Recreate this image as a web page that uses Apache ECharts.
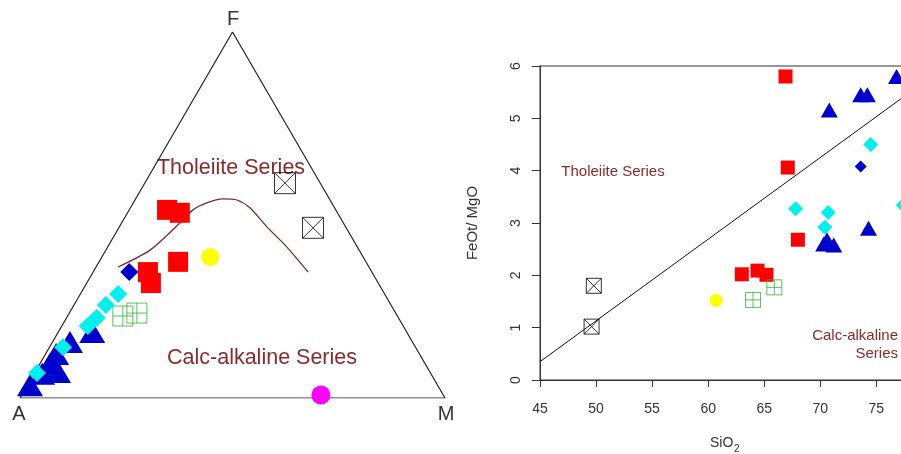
<!DOCTYPE html>
<html>
<head>
<meta charset="utf-8">
<script src="https://cdn.jsdelivr.net/npm/echarts@6/dist/echarts.min.js"></script>
<style>
  html, body { margin: 0; padding: 0; background: #fff; }
  #chart { width: 901px; height: 454px; }
</style>
</head>
<body>
<div id="chart"></div>
<script>
const FONT = '"Liberation Sans", Arial, sans-serif';

// ---- AFM ternary diagram: every row is [A, F, M] in percent ----
const afmCorners = [[100, 0, 0], [0, 100, 0], [0, 0, 100], [100, 0, 0]];
const afmBoundary = [
  [59.0, 35.8, 5.2], [49.2, 40.4, 10.4], [38.5, 47.8, 13.7], [33.6, 51.4, 15.0],
  [29.4, 53.3, 17.3], [25.1, 54.4, 20.5], [21.9, 54.1, 24.0], [19.9, 51.9, 28.2],
  [18.5, 46.7, 34.8], [16.6, 41.3, 42.1], [15.0, 34.4, 50.6]
];
const afmRedSquare = [[39.7, 51.4, 8.9], [37.1, 50.6, 12.3], [44.2, 37.2, 18.6], [52.7, 34.4, 12.9], [53.5, 31.4, 15.1]];
const afmBlueTriangle = [[95.9, 3.5, 0.6], [91.5, 6.6, 1.9], [88.3, 9.3, 2.4], [85.5, 12.0, 2.5], [80.6, 15.3, 4.1], [74.0, 18.0, 8.0], [87.5, 7.1, 5.4]];
const afmCyanDiamond = [[62.7, 28.4, 8.9], [67.1, 25.4, 7.5], [71.0, 21.9, 7.1], [74.2, 19.7, 6.1], [82.9, 13.9, 3.2], [92.6, 6.8, 0.6]];
const afmBlueDiamond = [[57.1, 34.4, 8.5]];
const afmYellowCircle = [[36.0, 38.5, 25.5]];
const afmMagentaCircle = [[28.8, 0.8, 70.4]];
const afmGreenPlus = [[64.6, 22.4, 13.0], [60.9, 23.2, 15.9]];
const afmBlackCross = [[8.3, 58.7, 33.0], [7.8, 46.5, 45.7]];

// ---- SiO2 vs FeOt/MgO ----
const dividerSiO2 = [45, 78];
const dividerRatio = [0.35, 5.50];
const sio2RedSquare = [66.9, 67.1, 68.0, 63.0, 64.4, 65.2];
const ratioRedSquare = [5.80, 4.06, 2.68, 2.02, 2.09, 2.01];
const sio2BlueTriangle = [70.3, 70.6, 71.2, 74.3, 70.8, 73.6, 74.2, 76.8];
const ratioBlueTriangle = [2.60, 2.68, 2.58, 2.90, 5.16, 5.45, 5.45, 5.80];
const sio2CyanDiamond = [67.8, 70.7, 70.4, 74.5, 77.4];
const ratioCyanDiamond = [3.27, 3.20, 2.92, 4.50, 3.34];
const sio2BlueDiamond = [73.6];
const ratioBlueDiamond = [4.08];
const sio2YellowCircle = [60.7];
const ratioYellowCircle = [1.52];
const sio2GreenPlus = [64.0, 65.9];
const ratioGreenPlus = [1.53, 1.77];
const sio2BlackCross = [49.8, 49.6];
const ratioBlackCross = [1.80, 1.02];

const sio2Range = [45, 78];
const sio2Step = 5;
const ratioRange = [0, 6];
const ratioStep = 1;

// ternary [A, F, M] -> planar coordinates (A bottom-left, M bottom-right, F apex)
function tern(row) {
  const s = row[0] + row[1] + row[2];
  const f = row[1] / s * 100, m = row[2] / s * 100;
  return [m + f / 2, f * Math.sqrt(3) / 2];
}
function pairs(xs, ys) { return xs.map((x, i) => [x, ys[i]]); }

const boxCross = 'path://M0,0L20,0L20,20L0,20Z M0,0L20,20 M20,0L0,20';
const boxPlus = 'path://M0,0L20,0L20,20L0,20Z M10,0L10,20 M0,10L20,10';

const RED = '#ff0000', BLUE = '#0000cd', CYAN = '#00f0f0', YELLOW = '#ffff00',
      MAGENTA = '#ff00ff', GREEN = '#2db52d', LABEL = '#8b2a2a';

function pts(name, idx, data, symbol, size, color, z) {
  const hollow = symbol.startsWith('path://');
  return {
    name, type: 'scatter', xAxisIndex: idx, yAxisIndex: idx, data, symbol, symbolSize: size,
    z: z, silent: true,
    itemStyle: hollow
      ? { color: 'rgba(0,0,0,0)', borderColor: color, borderWidth: 1 }
      : { color: color, opacity: 1 }
  };
}

const chart = echarts.init(document.getElementById('chart'), null, { renderer: 'canvas' });

chart.setOption({
  animation: false,
  backgroundColor: '#ffffff',
  textStyle: { fontFamily: FONT },
  grid: [
    { left: 20, top: 32, width: 425, height: 366, outerBoundsMode: 'none' },
    { left: 540, top: 66, width: 370, height: 314, outerBoundsMode: 'none',
      show: true, borderColor: '#777', borderWidth: 1.5, backgroundColor: 'transparent' }
  ],
  xAxis: [
    { gridIndex: 0, type: 'value', min: 0, max: 100, show: false },
    {
      gridIndex: 1, type: 'value', min: sio2Range[0], max: sio2Range[1], interval: sio2Step,
      axisLine: { show: true, onZero: false, lineStyle: { color: '#333', width: 1 } },
      axisTick: { show: true, length: 7, lineStyle: { color: '#333' } },
      axisLabel: { color: '#333', fontSize: 14, margin: 22, fontFamily: FONT, showMaxLabel: false },
      splitLine: { show: false }
    }
  ],
  yAxis: [
    { gridIndex: 0, type: 'value', min: 0, max: 100 * Math.sqrt(3) / 2, show: false },
    {
      gridIndex: 1, type: 'value', min: ratioRange[0], max: ratioRange[1], interval: ratioStep,
      name: 'FeOt/ MgO', nameLocation: 'middle', nameGap: 60, nameRotate: 90,
      nameTextStyle: { color: '#333', fontSize: 15, fontFamily: FONT },
      axisLine: { show: true, onZero: false, lineStyle: { color: '#333', width: 1 } },
      axisTick: { show: true, length: 8, lineStyle: { color: '#333' } },
      axisLabel: { color: '#333', fontSize: 14, margin: 17, rotate: 90, fontFamily: FONT },
      splitLine: { show: false }
    }
  ],
  series: [
    {
      name: 'triangle', type: 'line', xAxisIndex: 0, yAxisIndex: 0, silent: true,
      data: afmCorners.map(tern), symbol: 'none', z: 1,
      lineStyle: { color: '#222', width: 1.2 }
    },
    {
      name: 'boundary', type: 'line', xAxisIndex: 0, yAxisIndex: 0, silent: true,
      data: afmBoundary.map(tern), symbol: 'none', smooth: 0.25, z: 1,
      lineStyle: { color: '#7a2b38', width: 1.3 }
    },
    pts('afmBlackCross', 0, afmBlackCross.map(tern), boxCross, 21, '#000', 2),
    pts('afmMagenta', 0, afmMagentaCircle.map(tern), 'circle', 19, MAGENTA, 2),
    pts('afmYellow', 0, afmYellowCircle.map(tern), 'circle', 18, YELLOW, 2),
    pts('afmRed', 0, afmRedSquare.map(tern), 'rect', 20, RED, 2),
    pts('afmBlueDiamond', 0, afmBlueDiamond.map(tern), 'diamond', 18, BLUE, 2),
    pts('afmBlueTriangle', 0, afmBlueTriangle.map(tern), 'triangle', [26, 22], BLUE, 2),
    pts('afmGreen', 0, afmGreenPlus.map(tern), boxPlus, 20, GREEN, 3),
    pts('afmCyan', 0, afmCyanDiamond.map(tern), 'diamond', 18, CYAN, 3),

    {
      name: 'divider', type: 'line', xAxisIndex: 1, yAxisIndex: 1, silent: true,
      data: pairs(dividerSiO2, dividerRatio), symbol: 'none', z: 1,
      lineStyle: { color: '#111', width: 1 }
    },
    pts('red', 1, pairs(sio2RedSquare, ratioRedSquare), 'rect', 14, RED, 2),
    pts('blueTriangle', 1, pairs(sio2BlueTriangle, ratioBlueTriangle), 'triangle', [17, 15], BLUE, 2),
    pts('cyan', 1, pairs(sio2CyanDiamond, ratioCyanDiamond), 'diamond', 15, CYAN, 2),
    pts('blueDiamond', 1, pairs(sio2BlueDiamond, ratioBlueDiamond), 'diamond', 12, BLUE, 2),
    pts('yellow', 1, pairs(sio2YellowCircle, ratioYellowCircle), 'circle', 13, YELLOW, 2),
    pts('green', 1, pairs(sio2GreenPlus, ratioGreenPlus), boxPlus, 15, GREEN, 2),
    pts('blackCross', 1, pairs(sio2BlackCross, ratioBlackCross), boxCross, 15, '#000', 2)
  ],
  graphic: [
    { type: 'text', x: 233, y: 19, style: { text: 'F', fill: '#333', font: '20px ' + FONT, align: 'center', verticalAlign: 'middle' } },
    { type: 'text', x: 19, y: 414, style: { text: 'A', fill: '#333', font: '20px ' + FONT, align: 'center', verticalAlign: 'middle' } },
    { type: 'text', x: 446, y: 414, style: { text: 'M', fill: '#333', font: '20px ' + FONT, align: 'center', verticalAlign: 'middle' } },
    { type: 'text', x: 231, y: 168, style: { text: 'Tholeiite Series', fill: LABEL, font: '21.5px ' + FONT, align: 'center', verticalAlign: 'middle' } },
    { type: 'text', x: 262, y: 358, style: { text: 'Calc-alkaline Series', fill: LABEL, font: '21.5px ' + FONT, align: 'center', verticalAlign: 'middle' } },
    { type: 'text', x: 613, y: 172, style: { text: 'Tholeiite Series', fill: LABEL, font: '15px ' + FONT, align: 'center', verticalAlign: 'middle' } },
    { type: 'text', x: 898, y: 336, style: { text: 'Calc-alkaline', fill: LABEL, font: '15px ' + FONT, align: 'right', verticalAlign: 'middle' } },
    { type: 'text', x: 898, y: 354, style: { text: 'Series', fill: LABEL, font: '15px ' + FONT, align: 'right', verticalAlign: 'middle' } },
    { type: 'text', x: 710, y: 443, style: { text: 'SiO', fill: '#333', font: '14px ' + FONT, align: 'left', verticalAlign: 'middle' } },
    { type: 'text', x: 734, y: 449, style: { text: '2', fill: '#333', font: '10px ' + FONT, align: 'left', verticalAlign: 'middle' } }
  ]
});
</script>
</body>
</html>
